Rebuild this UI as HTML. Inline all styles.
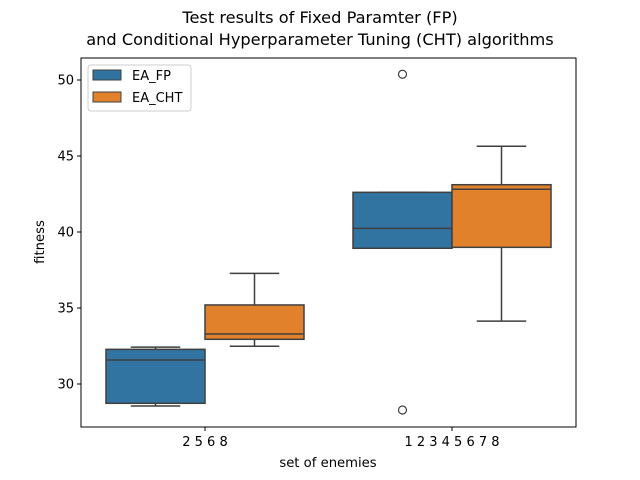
<!DOCTYPE html>
<html><head><meta charset="utf-8"><style>
body{margin:0;background:#fff}
svg{display:block;font-family:"DejaVu Sans","Liberation Sans",sans-serif}
</style></head><body>
<svg id="chart" width="640" height="480" xmlns="http://www.w3.org/2000/svg">
<text x="320" y="23" font-size="16.2" text-anchor="middle">Test results of Fixed Paramter (FP)</text>
<text x="320" y="45" font-size="16.2" text-anchor="middle">and Conditional Hyperparameter Tuning (CHT) algorithms</text>
<g id="plot"></g>
<rect x="81" y="58" width="495" height="369" fill="none" stroke="#000" stroke-width="1"/>
<text x="328" y="467" font-size="13.2" text-anchor="middle">set of enemies</text>
<text transform="translate(44,242) rotate(-90)" font-size="13.2" text-anchor="middle">fitness</text>
<g>
<rect x="88" y="65" width="103" height="46" rx="3" fill="#fff" stroke="#ccc"/>
<rect x="93" y="70" width="28" height="10" fill="#3274a1" stroke="#3f3f3f"/>
<text x="132" y="80" font-size="13">EA_FP</text>
<rect x="93" y="92" width="28" height="10" fill="#e1812c" stroke="#3f3f3f"/>
<text x="132" y="102" font-size="13">EA_CHT</text>
</g>
</svg>
<script>
const categories=["2 5 6 8","1 2 3 4 5 6 7 8"];
const seriesNames=["EA_FP","EA_CHT"];
const colors=["#3274a1","#e1812c"];
// [whiskerLow, Q1, median, Q3, whiskerHigh]
const fpStats=[[28.55,28.73,31.58,32.28,32.43],[38.93,38.93,40.24,42.61,42.61]];
const chtStats=[[32.48,32.94,33.29,35.2,37.28],[34.14,38.99,42.81,43.11,45.64]];
const fpOutliers=[[],[50.38,28.29]];
const chtOutliers=[[],[]];
const yTicks=[30,35,40,45,50];
const NS="http://www.w3.org/2000/svg";
const y=v=>384-(v-30)*15.2;
const x=i=>205+i*247;
const g=document.getElementById('plot');
function mk(t,a){const e=document.createElementNS(NS,t);for(const k in a)e.setAttribute(k,a[k]);g.appendChild(e);return e;}
yTicks.forEach(t=>{
 const l=mk('line',{x1:77,x2:81,y1:y(t),y2:y(t),stroke:'#000'});
 
 
 const tx=mk('text',{x:74,y:y(t)+4.5,'font-size':13,'text-anchor':'end'});tx.textContent=t;
 
 
});
categories.forEach((c,i)=>{
 const l=mk('line',{x1:x(i),x2:x(i),y1:427,y2:431,stroke:'#000'});
 
 
 const tx=mk('text',{x:x(i),y:446,'font-size':13,'text-anchor':'middle'});tx.textContent=c;
 
 
});
const all=[fpStats,chtStats],outs=[fpOutliers,chtOutliers];
const bw=99;
all.forEach((st,s)=>{
 st.forEach((d,i)=>{
  const cx=x(i)+(s===0?-bw/2:bw/2);
  const w1=mk('line',{x1:cx,x2:cx,y1:y(d[0]),y2:y(d[1]),stroke:'#3f3f3f','stroke-width':1.5});
  
  
  const w2=mk('line',{x1:cx,x2:cx,y1:y(d[3]),y2:y(d[4]),stroke:'#3f3f3f','stroke-width':1.5});
  
  
  [d[0],d[4]].forEach(v=>{const cp=mk('line',{x1:cx-bw/4,x2:cx+bw/4,y1:y(v),y2:y(v),stroke:'#3f3f3f','stroke-width':1.5});
   
   });
  const b=mk('rect',{x:cx-bw/2,y:y(d[3]),width:bw,height:y(d[1])-y(d[3]),fill:colors[s],stroke:'#3f3f3f','stroke-width':1.5});
  
  
  const m=mk('line',{x1:cx-bw/2,x2:cx+bw/2,y1:y(d[2]),y2:y(d[2]),stroke:'#3f3f3f','stroke-width':1.5});
  
  
  outs[s][i].forEach(v=>{const o=mk('circle',{cx:cx,cy:y(v),r:4,fill:'none',stroke:'#3f3f3f','stroke-width':1.2});
   
   });
 });
});
</script>
</body></html>
